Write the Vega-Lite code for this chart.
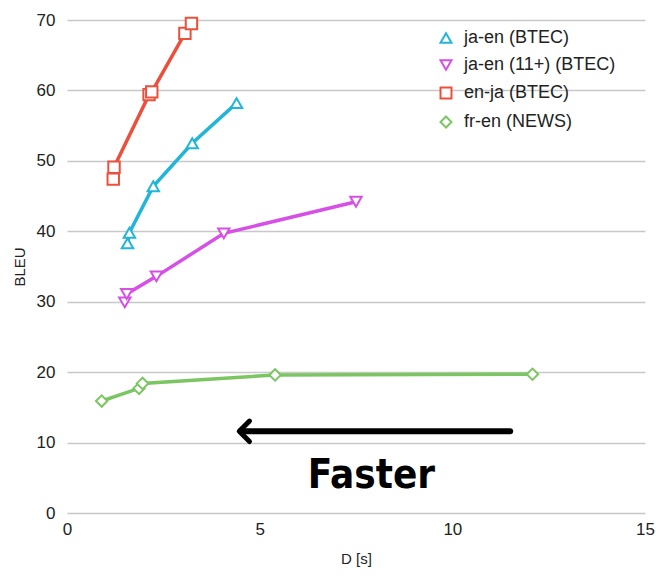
{
  "$schema": "https://vega.github.io/schema/vega-lite/v6.json",
  "width": 578,
  "height": 493,
  "autosize": {"type": "none"},
  "padding": {"left": 67, "top": 20, "right": 11, "bottom": 72},
  "background": "white",
  "config": {
    "view": {"stroke": null},
    "font": "Liberation Sans",
    "axis": {"labelFont": "Liberation Sans", "titleFont": "Liberation Sans", "labelColor": "#222", "titleColor": "#222", "titleFontWeight": "normal"},
    "legend": {"orient": "none", "legendX": 370, "legendY": 9, "labelFontSize": 18, "labelColor": "#222", "rowPadding": 9, "symbolSize": 120, "symbolStrokeWidth": 2, "symbolFillColor": "white", "labelOffset": 9, "labelFont": "Liberation Sans"}
  },
  "datasets": {
    "series": [
      {"pair": "ja-en (BTEC)", "D": 1.57, "BLEU": 38.3},
      {"pair": "ja-en (BTEC)", "D": 1.62, "BLEU": 39.8},
      {"pair": "ja-en (BTEC)", "D": 2.24, "BLEU": 46.4},
      {"pair": "ja-en (BTEC)", "D": 3.25, "BLEU": 52.5},
      {"pair": "ja-en (BTEC)", "D": 4.4, "BLEU": 58.2},
      {"pair": "ja-en (11+) (BTEC)", "D": 1.5, "BLEU": 29.9},
      {"pair": "ja-en (11+) (BTEC)", "D": 1.55, "BLEU": 31.1},
      {"pair": "ja-en (11+) (BTEC)", "D": 2.32, "BLEU": 33.6},
      {"pair": "ja-en (11+) (BTEC)", "D": 4.07, "BLEU": 39.7},
      {"pair": "ja-en (11+) (BTEC)", "D": 7.5, "BLEU": 44.2},
      {"pair": "en-ja (BTEC)", "D": 1.2, "BLEU": 47.4},
      {"pair": "en-ja (BTEC)", "D": 1.22, "BLEU": 49.1},
      {"pair": "en-ja (BTEC)", "D": 2.13, "BLEU": 59.4},
      {"pair": "en-ja (BTEC)", "D": 2.2, "BLEU": 59.8},
      {"pair": "en-ja (BTEC)", "D": 3.06, "BLEU": 68.1},
      {"pair": "en-ja (BTEC)", "D": 3.23, "BLEU": 69.5},
      {"pair": "fr-en (NEWS)", "D": 0.9, "BLEU": 15.9},
      {"pair": "fr-en (NEWS)", "D": 1.87, "BLEU": 17.7},
      {"pair": "fr-en (NEWS)", "D": 1.96, "BLEU": 18.4},
      {"pair": "fr-en (NEWS)", "D": 5.4, "BLEU": 19.6},
      {"pair": "fr-en (NEWS)", "D": 12.08, "BLEU": 19.7}
    ],
    "arrow": [{"D": 11.5, "D2": 4.55, "BLEU": 11.6}],
    "label": [{"D": 7.9, "BLEU": 5.2, "text": "Faster"}]
  },
  "layer": [
    {
      "data": {"name": "series"},
      "mark": {"type": "line", "strokeWidth": 3.5},
      "encoding": {
        "x": {"field": "D", "type": "quantitative", "scale": {"domain": [0, 15], "nice": false},
              "axis": {"title": "D [s]", "values": [0, 5, 10, 15], "grid": false, "ticks": false, "domain": false, "labelFontSize": 17, "labelPadding": 8, "titleFontSize": 15, "titlePadding": 14, "labelFlush": false}},
        "y": {"field": "BLEU", "type": "quantitative", "scale": {"domain": [0, 70], "nice": false},
              "axis": {"title": "BLEU", "values": [0, 10, 20, 30, 40, 50, 60, 70], "grid": true, "gridColor": "#c8c8c8", "gridWidth": 1.5, "ticks": false, "domain": false, "labelFontSize": 17, "labelPadding": 12, "titleFontSize": 15, "titlePadding": 9}},
        "stroke": {"field": "pair", "type": "nominal",
                  "scale": {"domain": ["ja-en (BTEC)", "ja-en (11+) (BTEC)", "en-ja (BTEC)", "fr-en (NEWS)"], "range": ["#22b5d8", "#d64fe6", "#ea503b", "#7cc563"]},
                  "legend": {"title": null}},
        "order": {"field": "D", "type": "quantitative"}
      }
    },
    {
      "data": {"name": "series"},
      "mark": {"type": "point", "filled": true, "fill": "white", "strokeWidth": 2, "size": 130, "opacity": 1},
      "encoding": {
        "x": {"field": "D", "type": "quantitative"},
        "y": {"field": "BLEU", "type": "quantitative"},
        "stroke": {"field": "pair", "type": "nominal", "legend": {"title": null}},
        "shape": {"field": "pair", "type": "nominal",
                  "scale": {"domain": ["ja-en (BTEC)", "ja-en (11+) (BTEC)", "en-ja (BTEC)", "fr-en (NEWS)"], "range": ["triangle-up", "triangle-down", "square", "diamond"]},
                  "legend": {"title": null}}
      }
    },
    {
      "data": {"name": "arrow"},
      "mark": {"type": "rule", "strokeWidth": 6, "color": "black", "strokeCap": "round"},
      "encoding": {
        "x": {"field": "D", "type": "quantitative"},
        "x2": {"field": "D2"},
        "y": {"field": "BLEU", "type": "quantitative"}
      }
    },
    {
      "data": {"name": "arrow"},
      "mark": {"type": "point", "shape": "M0.7,-1L-0.3,0L0.7,1", "filled": false, "stroke": "black", "strokeWidth": 5, "size": 420, "opacity": 1, "strokeCap": "round", "strokeJoin": "round"},
      "encoding": {
        "x": {"field": "D2", "type": "quantitative"},
        "y": {"field": "BLEU", "type": "quantitative"}
      }
    },
    {
      "data": {"name": "label"},
      "mark": {"type": "text", "font": "DejaVu Sans Condensed, Liberation Sans", "fontWeight": "bold", "fontSize": 40, "color": "black", "align": "center", "baseline": "middle"},
      "encoding": {
        "x": {"field": "D", "type": "quantitative"},
        "y": {"field": "BLEU", "type": "quantitative"},
        "text": {"field": "text"}
      }
    }
  ]
}
